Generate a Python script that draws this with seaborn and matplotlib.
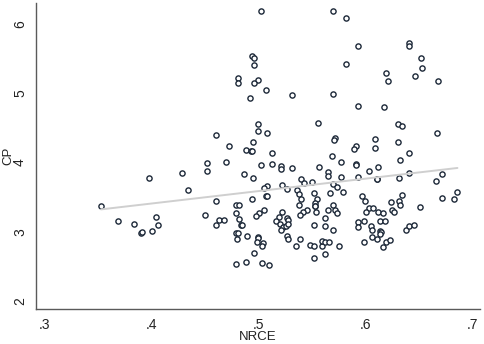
import numpy as np
import pandas as pd
import matplotlib
matplotlib.use("Agg")
import matplotlib.pyplot as plt
import seaborn as sns

# values
nrce = [0.353, 0.398, 0.429, 0.434, 0.369, 0.384, 0.390, 0.391, 0.401, 0.404,
        0.406, 0.450, 0.460, 0.460, 0.463, 0.468, 0.479, 0.482, 0.479, 0.482,
        0.484, 0.479, 0.481, 0.480, 0.479, 0.460, 0.473, 0.452, 0.470, 0.452,
        0.481, 0.481, 0.500, 0.508, 0.495, 0.488, 0.493, 0.494, 0.502, 0.487,
        0.495, 0.508, 0.505, 0.507, 0.508, 0.494, 0.505, 0.501, 0.498, 0.485,
        0.489, 0.500, 0.500, 0.499, 0.504, 0.503, 0.496, 0.488, 0.503, 0.510,
        0.502, 0.494, 0.496, 0.496, 0.500, 0.496, 0.507, 0.492, 0.531, 0.500,
        0.570, 0.582, 0.593, 0.582, 0.641, 0.641, 0.652, 0.653, 0.619, 0.621,
        0.646, 0.668, 0.570, 0.593, 0.617, 0.556, 0.630, 0.634, 0.667, 0.572,
        0.571, 0.609, 0.609, 0.630, 0.591, 0.589, 0.513, 0.569, 0.641, 0.632,
        0.577, 0.513, 0.521, 0.521, 0.531, 0.557, 0.591, 0.591, 0.612, 0.603,
        0.565, 0.565, 0.577, 0.540, 0.543, 0.550, 0.522, 0.527, 0.536, 0.570,
        0.573, 0.579, 0.567, 0.552, 0.538, 0.540, 0.555, 0.553, 0.553, 0.553,
        0.538, 0.570, 0.565, 0.572, 0.573, 0.545, 0.542, 0.539, 0.554, 0.522,
        0.527, 0.528, 0.519, 0.516, 0.520, 0.523, 0.526, 0.528, 0.521, 0.562,
        0.562, 0.570, 0.552, 0.527, 0.528, 0.539, 0.535, 0.548, 0.552, 0.559,
        0.559, 0.562, 0.566, 0.575, 0.562, 0.552, 0.593, 0.611, 0.611, 0.631,
        0.641, 0.597, 0.600, 0.624, 0.631, 0.634, 0.632, 0.603, 0.607, 0.601,
        0.612, 0.616, 0.625, 0.627, 0.651, 0.593, 0.599, 0.593, 0.614, 0.618,
        0.605, 0.606, 0.614, 0.615, 0.614, 0.606, 0.611, 0.599, 0.619, 0.623,
        0.616, 0.638, 0.641, 0.645, 0.672, 0.666, 0.686, 0.683, 0.672]
cp = [3.37, 3.78, 3.85, 3.61, 3.16, 3.12, 2.99, 3.00, 3.01, 3.21,
      3.10, 3.25, 3.44, 3.10, 3.17, 3.17, 3.38, 3.38, 3.27, 3.18,
      3.10, 2.99, 2.99, 2.89, 2.53, 4.40, 4.24, 4.00, 4.01, 3.88,
      5.22, 5.15, 4.46, 4.42, 4.29, 4.18, 4.17, 4.16, 3.97, 3.84,
      3.77, 3.66, 3.63, 3.52, 3.51, 3.47, 3.32, 3.27, 3.23, 3.10,
      2.94, 2.92, 2.91, 2.86, 2.84, 2.79, 2.69, 2.56, 2.55, 2.52,
      6.18, 5.54, 5.50, 5.40, 5.19, 5.14, 5.04, 4.93, 4.98, 4.56,
      6.18, 6.09, 5.68, 5.42, 5.73, 5.68, 5.51, 5.36, 5.29, 5.17,
      5.25, 5.17, 4.99, 4.82, 4.80, 4.57, 4.56, 4.52, 4.43, 4.36,
      4.32, 4.34, 4.21, 4.29, 4.24, 4.20, 4.14, 4.10, 4.13, 4.03,
      4.01, 3.98, 3.95, 3.90, 3.92, 3.93, 3.98, 3.97, 3.93, 3.88,
      3.86, 3.80, 3.79, 3.76, 3.70, 3.72, 3.67, 3.62, 3.60, 3.69,
      3.65, 3.58, 3.56, 3.56, 3.54, 3.47, 3.47, 3.41, 3.37, 3.37,
      3.39, 3.38, 3.32, 3.32, 3.27, 3.32, 3.28, 3.25, 3.28, 3.28,
      3.20, 3.17, 3.21, 3.15, 3.12, 3.07, 3.09, 3.11, 3.03, 3.20,
      3.09, 3.03, 3.10, 2.94, 2.90, 2.90, 2.80, 2.81, 2.80, 2.79,
      2.87, 2.85, 2.85, 2.80, 2.68, 2.62, 3.79, 3.76, 3.76, 3.77,
      3.85, 3.52, 3.45, 3.43, 3.45, 3.53, 3.39, 3.34, 3.34, 3.29,
      3.29, 3.27, 3.32, 3.28, 3.36, 3.14, 3.15, 3.07, 3.16, 3.16,
      3.09, 3.03, 3.01, 3.00, 2.97, 2.93, 2.90, 2.85, 2.85, 2.88,
      2.78, 3.02, 3.08, 3.10, 3.84, 3.74, 3.58, 3.48, 3.49]

x_ticks = [0.3, 0.4, 0.5, 0.6, 0.7]
x_labels = [".3", ".4", ".5", ".6", ".7"]
y_ticks = [2, 3, 4, 5, 6]

df = pd.DataFrame({"NRCE": nrce, "CP": cp})

sns.set_style("white")
plt.rcParams["font.family"] = ["Liberation Sans", "DejaVu Sans"]

fig = plt.figure(figsize=(4.84, 3.44), dpi=100)
ax = fig.add_axes([0.0744, 0.1017, 0.9176, 0.8895])

sns.regplot(data=df, x="NRCE", y="CP", ax=ax, ci=None,
            scatter_kws=dict(s=14, facecolors="white", edgecolors="#1c2838",
                             linewidths=1.0, alpha=1),
            line_kws=dict(color="#cfcfcf", lw=1.4, zorder=1))

ax.set_xlim(0.2922, 0.7072)
ax.set_ylim(1.887, 6.30)
ax.set_xticks(x_ticks)
ax.set_xticklabels(x_labels)
ax.set_yticks(y_ticks)
ax.set_yticklabels([str(v) for v in y_ticks], rotation=90, va="center")

for s in ["top", "right"]:
    ax.spines[s].set_visible(False)
for s in ["left", "bottom"]:
    ax.spines[s].set_color("#5a5a5a")
    ax.spines[s].set_linewidth(1.0)
ax.tick_params(axis="both", direction="out", length=4, width=1.0,
               color="#5a5a5a", labelsize=10, labelcolor="#222222", pad=2.5)
ax.set_xlabel("NRCE", fontsize=9.5, color="#222222")
ax.set_ylabel("CP", fontsize=9.5, color="#222222")
ax.xaxis.set_label_coords(0.5, -0.073)
ax.yaxis.set_label_coords(-0.049, 0.5)

fig.savefig("out.png", dpi=100)
